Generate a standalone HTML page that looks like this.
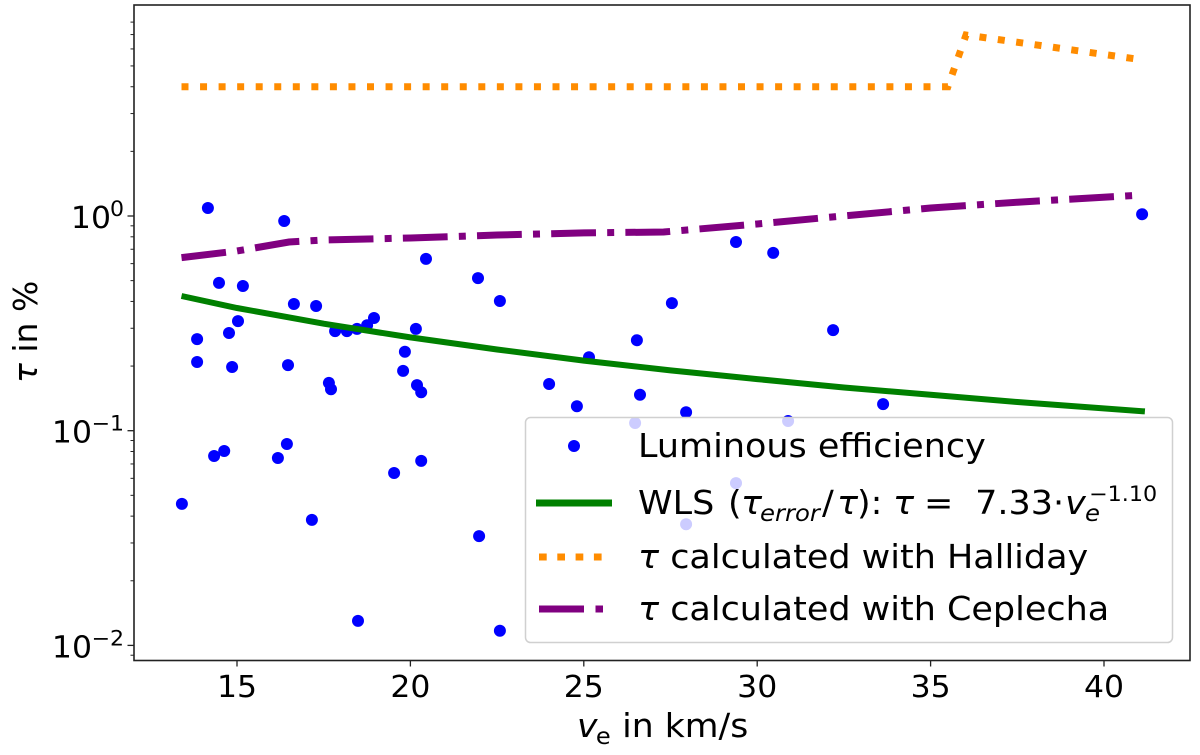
<!DOCTYPE html>
<html lang="en">
<head>
<meta charset="utf-8">
<title>Luminous efficiency chart</title>
<style>
html,body{margin:0;padding:0;background:#fff;width:1200px;height:755px;overflow:hidden}
svg{display:block}
text{font-family:"DejaVu Sans","Liberation Sans",sans-serif;fill:#000}
.it{font-style:italic}
</style>
</head>
<body>
<svg id="chart" xmlns="http://www.w3.org/2000/svg" width="1200" height="755" viewBox="0 0 1200 755">
  <g id="points"></g>
  <g id="lines"></g>
  <g id="axes"></g>
  <text transform="translate(577,737) scale(1.05,1)" font-size="33"><tspan x="0" class="it">v</tspan><tspan x="18" dy="7" font-size="23">e</tspan><tspan x="43" dy="-7">in km/s</tspan></text>
  <text transform="translate(37,383) rotate(-90)" font-size="33"><tspan class="it">τ</tspan> in %</text>
  <g>
    <rect x="525.5" y="417.5" width="647" height="225" rx="5" fill="#fff" fill-opacity="0.8" stroke="#d0d0d0" stroke-width="1.5"/>
    <circle cx="574" cy="446" r="6" fill="#0000ff"/>
    <line x1="536" y1="503" x2="612" y2="503" stroke="#008000" stroke-width="7"/>
    <line x1="539" y1="557" x2="603" y2="557" stroke="#ff8c00" stroke-width="7" stroke-dasharray="7.7 10.6"/>
    <line x1="539" y1="609" x2="603" y2="609" stroke="#800080" stroke-width="7" stroke-dasharray="45 11.5 7.5 11"/>
    <g transform="translate(638,0) scale(1.06,1)">
      <text x="0" y="457" font-size="33">Luminous efficiency</text>
      <text y="514" font-size="33"><tspan x="0">WLS</tspan><tspan x="84.9">(</tspan><tspan x="97.2" class="it">τ</tspan><tspan x="115.1" dy="7" font-size="23" class="it">error</tspan><tspan x="173.6" dy="-7">/</tspan><tspan x="187.7" class="it">τ</tspan><tspan x="206.6">):</tspan><tspan x="240.6" class="it">τ</tspan><tspan x="269.8">=</tspan><tspan x="318">7.33</tspan><tspan x="391.5">·</tspan><tspan x="402.9" class="it">v</tspan><tspan x="421.7" dy="7" font-size="23" class="it">e</tspan><tspan x="425.5" dy="-20" font-size="21">−1.10</tspan></text>
      <text x="0" y="568" font-size="33"><tspan class="it">τ</tspan> calculated with Halliday</text>
      <text x="0" y="620" font-size="33"><tspan class="it">τ</tspan> calculated with Ceplecha</text>
    </g>
  </g>
</svg>
<script>
const scatterVelocity = [13.41,14.16,13.85,13.85,14.48,14.77,14.86,15.03,15.17,14.34,14.63,16.36,16.64,16.47,16.44,16.18,17.16,17.28,17.65,17.71,17.83,18.17,18.46,18.75,18.95,19.53,18.49,19.79,19.84,20.16,20.19,20.31,20.31,20.45,21.95,21.98,22.58,22.58,24.0,24.8,25.15,26.48,26.53,26.62,27.54,27.95,27.95,29.39,29.39,30.46,30.89,32.19,33.63,41.1];
const scatterTau = [0.0456,1.09,0.267,0.209,0.488,0.285,0.198,0.324,0.472,0.0762,0.0804,0.948,0.389,0.202,0.0867,0.0746,0.0384,0.381,0.167,0.156,0.291,0.291,0.298,0.31,0.335,0.0635,0.013,0.19,0.233,0.298,0.163,0.151,0.0723,0.631,0.514,0.0323,0.402,0.0117,0.165,0.13,0.22,0.1086,0.264,0.147,0.393,0.122,0.0367,0.757,0.057,0.673,0.111,0.294,0.133,1.02];
const wlsVelocity = [13.4,15,17.5,20,22.5,25,27.5,30,32.5,35,37.5,41.18];
const wlsTau = [0.424,0.373,0.315,0.272,0.239,0.212,0.191,0.174,0.159,0.147,0.136,0.123];
const hallidayVelocity = [13.4,35.5,36.02,40.95];
const hallidayTau = [4.0,4.0,6.97,5.38];
const ceplechaVelocity = [13.4,15,16.5,17.5,20,22.5,25,27.3,30,32,35,37.5,41];
const ceplechaTau = [0.64,0.687,0.757,0.773,0.79,0.816,0.834,0.842,0.918,0.984,1.09,1.16,1.25];
const xTickValues = [15,20,25,30,35,40];
const yTickValues = [1,0.1,0.01];
const yTickExponents = ['0','−1','−2'];
const yMinorTickValues = [8,7,6,5,4,3,2,0.9,0.8,0.7,0.6,0.5,0.4,0.3,0.2,0.09,0.08,0.07,0.06,0.05,0.04,0.03,0.02,0.009];

const NS = 'http://www.w3.org/2000/svg';
const plot = {left:134, right:1190, top:5, bottom:660.5};
function xScale(v){ return 237 + 34.68*(v-15); }
function yScale(t){ return 216 - 214.7*Math.log10(t); }
function make(tag, attrs, parent){
  const el = document.createElementNS(NS, tag);
  for (const k in attrs) el.setAttribute(k, attrs[k]);
  parent.appendChild(el);
  return el;
}
function pathFrom(xs, ys){
  return xs.map((v,i)=>(i?'L':'M')+xScale(v).toFixed(1)+' '+yScale(ys[i]).toFixed(1)).join(' ');
}
const pointsG = document.getElementById('points');
scatterVelocity.forEach((v,i)=>{
  const c = make('circle',{cx:xScale(v).toFixed(1),cy:yScale(scatterTau[i]).toFixed(1),r:6,fill:'#0000ff'},pointsG);
  
  
});
const linesG = document.getElementById('lines');
const wlsLine = make('path',{d:pathFrom(wlsVelocity,wlsTau),fill:'none',stroke:'#008000','stroke-width':6},linesG);


const hallidayLine = make('path',{d:pathFrom(hallidayVelocity,hallidayTau),fill:'none',stroke:'#ff8c00','stroke-width':7,'stroke-dasharray':'7 11.55'},linesG);


const ceplechaLine = make('path',{d:pathFrom(ceplechaVelocity,ceplechaTau),fill:'none',stroke:'#800080','stroke-width':7,'stroke-dasharray':'44.8 11.2 7 11.2'},linesG);



const axesG = document.getElementById('axes');
const frame = make('rect',{x:plot.left,y:plot.top,width:plot.right-plot.left,height:plot.bottom-plot.top,fill:'none',stroke:'#222','stroke-width':1.6},axesG);


xTickValues.forEach(v=>{
  const x = xScale(v);
  const t = make('line',{x1:x,x2:x,y1:plot.bottom,y2:plot.bottom+6,stroke:'#222','stroke-width':1.3},axesG);
  
  
  const l = make('text',{transform:'translate('+x+',697) scale(1.05,1)','text-anchor':'middle','font-size':30},axesG);
  
  
  l.textContent = v;
});
yMinorTickValues.forEach(v=>{
  const y = yScale(v);
  const t = make('line',{x1:plot.left-3.5,x2:plot.left,y1:y,y2:y,stroke:'#222','stroke-width':1},axesG);
  
  
});
yTickValues.forEach((v,i)=>{
  const y = yScale(v);
  const t = make('line',{x1:plot.left-6.5,x2:plot.left,y1:y,y2:y,stroke:'#222','stroke-width':1.3},axesG);
  
  
  const exp = yTickExponents[i];
  const supWidth = exp.length > 1 ? 32 : 13;
  const l = make('text',{transform:'translate('+(124-supWidth)+','+(y+12)+') scale(1.05,1)','text-anchor':'end','font-size':30},axesG);
  
  
  l.textContent = '10';
  const s = make('text',{transform:'translate(124,'+y+') scale(1.05,1)','text-anchor':'end','font-size':21},axesG);
  
  
  s.textContent = exp;
});
</script>
</body>
</html>
